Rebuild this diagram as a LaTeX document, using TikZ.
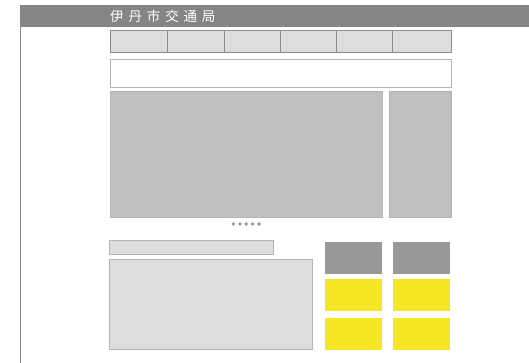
\documentclass[tikz,border=0pt]{standalone}
\usepackage{fontspec}
\newfontfamily\jpfont[LetterSpace=36]{Noto Sans CJK JP}
\definecolor{hdr}{HTML}{858585}
\definecolor{navfill}{HTML}{DCDDDC}
\definecolor{navline}{HTML}{8C8C8C}
\definecolor{softline}{HTML}{B4B4B4}
\definecolor{mainfill}{HTML}{BFC0BF}
\definecolor{tilegray}{HTML}{999999}
\definecolor{tileyellow}{HTML}{F5E626}
\begin{document}
\begin{tikzpicture}[x=1pt,y=-1pt,
  navcell/.style={draw=navline,fill=navfill,line width=1pt},
  softbox/.style={draw=softline,line width=1pt},
  graytile/.style={fill=tilegray},
  yellowtile/.style={fill=tileyellow},
  dotmark/.style={circle,fill=tilegray,inner sep=0pt,minimum size=3.8pt}]
\useasboundingbox (0,0) rectangle (529,363);
\fill[white] (0,0) rectangle (529,363);
% header
\fill[hdr] (20,5) rectangle (529,27) coordinate (hdrcorner);
\node[anchor=west,text=white,inner sep=0pt,font=\jpfont\fontsize{13.5}{13.5}\selectfont] (title) at (110,16.5) {伊丹市交通局};
\coordinate (vtop) at (20,27);
\coordinate (vbot) at (20,363);
\draw[navline,line width=1pt] (vtop) -- (vbot);
% navigation
\foreach \i/\a/\b in {1/110/167.7,2/167.7/224,3/224/280.5,4/280.5/336.5,5/336.5/392.7,6/392.7/451.5}{
  \draw[navcell] (\a,31) rectangle (\b,53) node[pos=.5] (nav\i) {};
}
% search
\draw[softbox,fill=white] (110,60) rectangle (451.5,88) node[pos=.5] (search) {};
% main visual
\draw[softbox,fill=mainfill] (110,92) rectangle (382.7,217.5) node[pos=.5] (mainvis) {};
\draw[softbox,fill=mainfill] (389.3,92) rectangle (451,217.5) node[pos=.5] (sidevis) {};
% dots
\foreach \k in {0,...,4}{
  \node[dotmark] (dot\k) at ({233.5+6.4*\k},224) {};
}
% bottom left
\draw[softbox,fill=navfill] (109.5,240.5) rectangle (273,254.5) node[pos=.5] (newsbar) {};
\draw[softbox,fill=navfill] (109.5,259.5) rectangle (312.5,349) node[pos=.5] (newsbox) {};
% tiles
\fill[graytile] (325,242) rectangle (382,273.7);
\fill[graytile] (393,242) rectangle (450,273.7);
\fill[yellowtile] (325,279) rectangle (382,310.7);
\fill[yellowtile] (393,279) rectangle (450,310.7);
\fill[yellowtile] (325,318) rectangle (382,349.7);
\fill[yellowtile] (393,318) rectangle (450,349.7);
\end{tikzpicture}
\end{document}
